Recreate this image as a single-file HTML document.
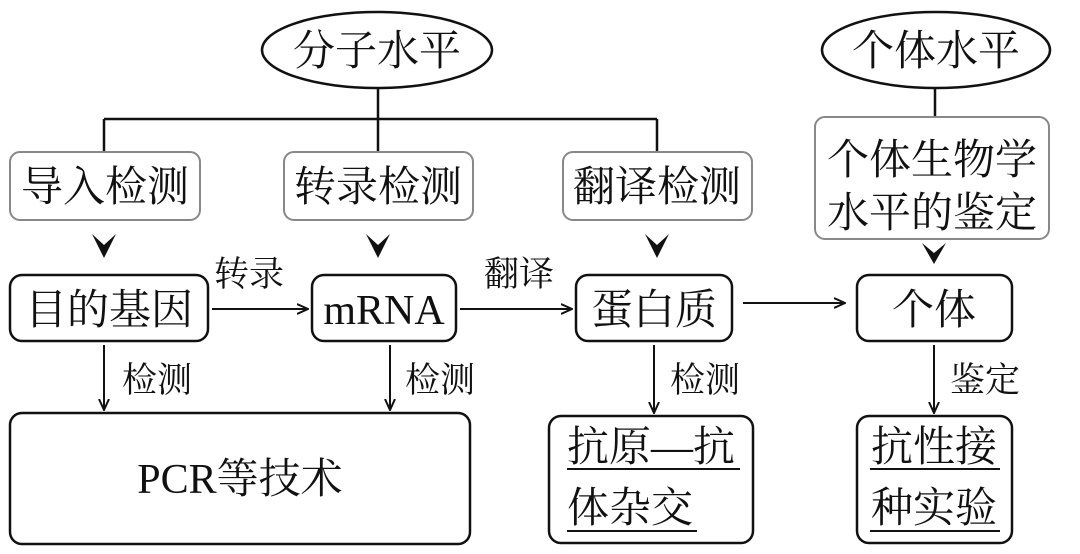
<!DOCTYPE html>
<html><head><meta charset="utf-8"><style>
html,body{margin:0;padding:0;background:#fff;}
svg text{font-family:"Liberation Serif","Noto Serif CJK SC",serif;fill:#111;}
</style></head><body>
<svg width="1080" height="549" viewBox="0 0 1080 549" xmlns="http://www.w3.org/2000/svg">
<defs>
<marker id="a" markerWidth="12" markerHeight="12" refX="11" refY="6" orient="auto" markerUnits="userSpaceOnUse">
<path d="M0,1 L11,6 L0,11" fill="none" stroke="#111" stroke-width="2"/>
</marker>
</defs>
<g stroke="#111" stroke-width="2.5" fill="none">
<ellipse cx="377" cy="50" rx="115" ry="38"/>
<ellipse cx="936" cy="50" rx="114" ry="38"/>
<path d="M378,88 V119 M104,119 H657 M104,119 V152 M378,119 V152 M657,119 V152 M935,88 V117"/>
</g>
<g stroke="#888" stroke-width="2" fill="#fff">
<rect x="10" y="152" width="190" height="68" rx="10"/>
<rect x="284" y="152" width="189" height="68" rx="10"/>
<rect x="563" y="152" width="189" height="68" rx="10"/>
<rect x="815" y="117" width="234" height="122" rx="10"/>
</g>
<g fill="#111">
<path d="M92,234 L104,245 L116,234 L104,258 Z"/>
<path d="M366,234 L378,245 L390,234 L378,258 Z"/>
<path d="M645,234 L657,245 L669,234 L657,258 Z"/>
<path d="M922,243 L934,253 L946,243 L934,264 Z"/>
</g>
<g stroke="#111" stroke-width="2.5" fill="#fff">
<rect x="10" y="275" width="198" height="66" rx="12"/>
<rect x="312" y="275" width="144" height="66" rx="12"/>
<rect x="576" y="275" width="156" height="66" rx="12"/>
<rect x="857" y="275" width="155" height="66" rx="12"/>
<rect x="10" y="413" width="460" height="131" rx="12"/>
<rect x="549" y="416" width="204" height="127" rx="12"/>
<rect x="857" y="416" width="155" height="127" rx="12"/>
</g>
<g stroke="#111" stroke-width="2" fill="none" marker-end="url(#a)">
<line x1="212" y1="309" x2="308" y2="309"/>
<line x1="460" y1="309" x2="572" y2="309"/>
<line x1="743" y1="303" x2="845" y2="303"/>
<line x1="104" y1="345" x2="104" y2="410"/>
<line x1="390" y1="345" x2="390" y2="410"/>
<line x1="654" y1="345" x2="654" y2="413"/>
<line x1="934" y1="345" x2="934" y2="413"/>
</g>
<g stroke="#111" stroke-width="2">
<line x1="567" y1="469" x2="740" y2="469"/>
<line x1="567" y1="531" x2="697" y2="531"/>
<line x1="870" y1="469" x2="1000" y2="469"/>
<line x1="870" y1="531" x2="1000" y2="531"/>
</g>
<g font-size="42" text-anchor="middle">
<text x="377" y="65">分子水平</text>
<text x="936" y="65">个体水平</text>
<text x="105" y="201">导入检测</text>
<text x="378" y="201">转录检测</text>
<text x="657" y="201">翻译检测</text>
<text x="932" y="174">个体生物学</text>
<text x="932" y="227">水平的鉴定</text>
<text x="109" y="324">目的基因</text>
<text x="384" y="324">mRNA</text>
<text x="654" y="324">蛋白质</text>
<text x="934" y="324">个体</text>
<text x="240" y="493">PCR等技术</text>
<text x="651" y="461">抗原—抗</text>
<text x="934" y="461">抗性接</text>
<text x="934" y="522">种实验</text>
</g>
<text x="567" y="522" font-size="42">体杂交</text>
<g font-size="35">
<text x="214" y="286">转录</text>
<text x="484" y="286">翻译</text>
<text x="122" y="392">检测</text>
<text x="405" y="392">检测</text>
<text x="670" y="392">检测</text>
<text x="950" y="392">鉴定</text>
</g>
</svg>
</body></html>
